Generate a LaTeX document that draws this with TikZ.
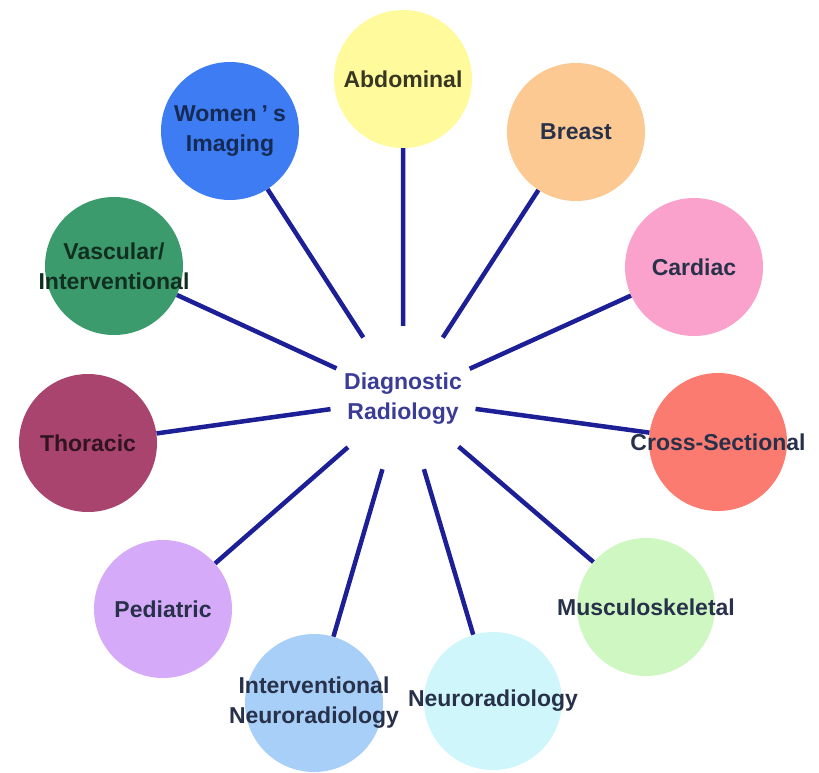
\documentclass[tikz,border=0pt]{standalone}
\usepackage{fontspec}
\setmainfont{Liberation Sans}
\usepackage{tikz}
\usetikzlibrary{positioning}

\definecolor{abdominal}{HTML}{FFFA9C}
\definecolor{breast}{HTML}{FCC992}
\definecolor{cardiac}{HTML}{FBA2CC}
\definecolor{crosssec}{HTML}{FB7B70}
\definecolor{musculo}{HTML}{CFF7C2}
\definecolor{neurorad}{HTML}{CEF6FB}
\definecolor{intneuro}{HTML}{A8CFF8}
\definecolor{pediatric}{HTML}{D5AAF8}
\definecolor{thoracic}{HTML}{A8446E}
\definecolor{vascular}{HTML}{3B9B6C}
\definecolor{womens}{HTML}{3D7CF2}
\definecolor{labeltext}{HTML}{28314A}
\definecolor{hubtext}{HTML}{3A3C96}
\definecolor{linkblue}{HTML}{1C1F96}

\tikzset{
	sub/.style={circle, minimum size=138pt, inner sep=0pt},
	subtext/.style={align=center, inner sep=0pt,
		font=\bfseries\fontsize{23}{30}\selectfont, text=labeltext},
	link/.style={draw=linkblue, line width=4.5pt},
}

\begin{document}
\begin{tikzpicture}[x=1pt,y=-1pt]
			\useasboundingbox (0,0) rectangle (819,772);
			
			\node[circle, minimum size=146pt, inner sep=0pt, align=center, text=hubtext,
				font=\bfseries\fontsize{23}{30}\selectfont] (hub) at (403,399) {Diagnostic\\Radiology};
			
			\node[sub, fill=abdominal, label={[subtext, text=abdominal!22!black]center:Abdominal}] (abd) at (403,79) {};
			\node[sub, fill=breast, label={[subtext]center:Breast}] (brs) at (576,132) {};
			\node[sub, fill=cardiac, label={[subtext]center:Cardiac}] (car) at (694,267) {};
			\node[sub, fill=crosssec, label={[subtext]center:Cross-Sectional}] (crs) at (718,442) {};
			\node[sub, fill=musculo, label={[subtext]center:Musculoskeletal}] (msk) at (646,607) {};
			\node[sub, fill=neurorad, label={[subtext]center:Neuroradiology}] (nrd) at (493,701) {};
			\node[sub, fill=intneuro, label={[subtext]center:Interventional\\Neuroradiology}] (inr) at (314,703) {};
			\node[sub, fill=pediatric, label={[subtext]center:Pediatric}] (ped) at (163,609) {};
			\node[sub, fill=thoracic, label={[subtext, text=thoracic!30!black]center:Thoracic}] (tho) at (88,443) {};
			\node[sub, fill=vascular, label={[subtext, text=vascular!30!black]center:Vascular/\\Interventional}] (vas) at (114,266) {};
			\node[sub, fill=womens, label={[subtext, text=womens!35!black]center:Women\hspace{5pt}'\hspace{5pt}s\\Imaging}] (wom) at (230,131) {};
			
			\draw[link]	(hub) -- (abd)
					(hub) -- (brs)
					(hub) -- (car)
					(hub) -- (crs)
					(hub) -- (msk)
					(hub) -- (nrd)
					(hub) -- (inr)
					(hub) -- (ped)
					(hub) -- (tho)
					(hub) -- (vas)
					(hub) -- (wom);
		\end{tikzpicture}
\end{document}
